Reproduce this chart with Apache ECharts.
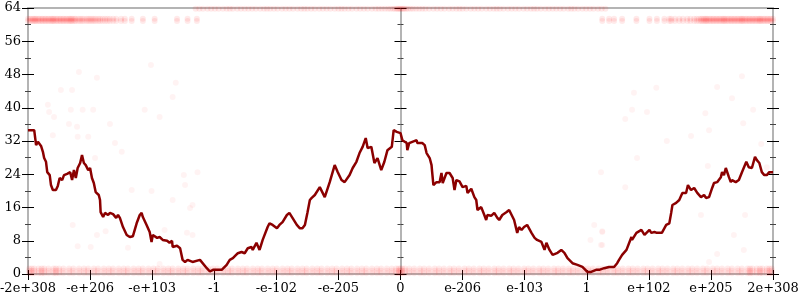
<!DOCTYPE html>
<html><head><meta charset="utf-8">
<script src="https://cdn.jsdelivr.net/npm/echarts@6/dist/echarts.min.js"></script>
<style>html,body{margin:0;padding:0;background:#fff}#c{width:800px;height:300px}</style>
</head><body><div id="c"></div>
<script>
// x axis: tick positions -6..6 map to these labels
const tickLabels = ['-2e+308','-e+206','-e+103','-1','-e-102','-e-205','0','e-206','e-103','1','e+102','e+205','2e+308'];

// main line (x in tick-index units, y values)
const lineX = [-6.00,-5.90,-5.87,-5.84,-5.81,-5.79,-5.76,-5.74,-5.71,-5.69,-5.65,-5.63,-5.60,-5.55,-5.52,-5.49,-5.45,-5.42,-5.37,-5.32,-5.29,-5.26,-5.23,-5.20,-5.16,-5.13,-5.10,-5.07,-5.03,-5.00,-4.97,-4.94,-4.91,-4.86,-4.84,-4.83,-4.79,-4.76,-4.71,-4.68,-4.63,-4.58,-4.55,-4.52,-4.47,-4.41,-4.36,-4.31,-4.28,-4.25,-4.20,-4.17,-4.15,-4.09,-4.04,-4.01,-3.99,-3.92,-3.88,-3.83,-3.76,-3.72,-3.68,-3.67,-3.60,-3.55,-3.51,-3.47,-3.43,-3.35,-3.23,-3.12,-3.07,-3.02,-2.94,-2.88,-2.86,-2.80,-2.75,-2.70,-2.62,-2.56,-2.51,-2.46,-2.40,-2.38,-2.32,-2.27,-2.22,-2.14,-2.11,-2.06,-1.99,-1.95,-1.90,-1.83,-1.79,-1.74,-1.67,-1.62,-1.58,-1.54,-1.50,-1.46,-1.43,-1.38,-1.30,-1.22,-1.14,-1.06,-1.01,-0.95,-0.90,-0.82,-0.77,-0.71,-0.66,-0.61,-0.56,-0.53,-0.47,-0.42,-0.37,-0.31,-0.26,-0.21,-0.14,-0.11,-0.06,-0.03,
0.00,0.03,0.10,0.11,0.14,0.19,0.26,0.27,0.35,0.39,0.42,0.47,0.50,0.51,0.53,0.58,0.63,0.66,0.68,0.74,0.79,0.84,0.87,0.90,0.95,1.00,1.06,1.08,1.14,1.16,1.19,1.22,1.24,1.30,1.35,1.38,1.40,1.46,1.51,1.56,1.59,1.64,1.71,1.75,1.79,1.83,1.88,1.91,1.95,1.99,2.04,2.11,2.16,2.20,2.27,2.32,2.35,2.40,2.45,2.53,2.59,2.64,2.69,2.77,2.85,2.93,3.01,3.07,3.15,3.20,3.28,3.36,3.44,3.49,3.52,3.57,3.64,3.65,3.72,3.73,3.80,3.88,3.93,4.01,4.04,4.09,4.13,4.21,4.28,4.33,4.36,4.38,4.44,4.49,4.54,4.60,4.63,4.68,4.73,4.78,4.84,4.89,4.92,4.97,5.02,5.05,5.10,5.16,5.18,5.21,5.24,5.29,5.32,5.34,5.40,5.45,5.50,5.57,5.61,5.66,5.71,5.74,5.78,5.82,5.86,5.90,5.94,6.00];
const lineY = [34.6,34.6,31.0,31.8,32.2,30.8,29.4,27.9,27.0,24.5,23.8,21.4,20.2,20.2,21.2,23.1,22.6,23.8,24.1,24.5,22.6,25.0,23.1,25.5,26.7,28.6,26.7,26.2,25.0,25.5,23.1,21.9,19.7,19.0,17.8,14.9,13.7,14.7,14.2,14.7,14.4,13.5,14.2,13.5,11.3,9.4,8.9,9.1,8.7,12.2,14.2,14.7,13.7,11.8,10.1,7.7,9.4,8.7,8.9,8.2,8.0,7.5,8.0,6.5,6.8,6.2,3.4,2.9,3.4,2.9,3.4,1.4,0.6,1.0,1.0,1.0,0.6,2.2,3.4,3.8,5.0,5.3,5.0,6.2,6.5,5.8,7.5,5.8,8.2,11.3,12.2,11.8,11.0,11.8,12.5,14.2,14.7,13.5,11.8,11.0,11.0,11.8,14.7,17.8,18.3,19.0,20.9,18.5,22.1,26.2,24.5,22.6,22.1,23.8,25.5,27.0,29.1,30.6,32.7,30.3,30.6,26.7,27.9,25.0,27.0,29.8,30.6,34.6,34.2,33.9,
33.9,32.2,31.5,29.8,31.5,31.8,32.2,31.5,31.5,31.0,29.1,27.9,26.2,24.5,21.4,22.1,22.1,24.3,21.9,24.3,24.3,23.1,20.2,22.6,22.3,20.9,21.2,19.5,20.5,20.2,18.5,17.8,15.4,16.1,14.2,13.0,14.2,14.0,14.7,13.5,13.0,14.2,14.9,15.4,14.2,13.0,9.9,11.3,10.6,11.3,11.8,9.9,8.7,8.2,7.7,5.8,7.5,5.8,4.6,5.1,5.8,5.1,3.8,2.6,2.2,1.7,0.5,0.5,1.0,1.0,1.4,1.7,1.7,2.6,3.4,4.6,5.8,6.2,8.9,8.2,9.9,10.6,9.4,10.6,9.9,10.1,9.9,9.9,11.8,12.2,14.7,16.6,17.1,17.8,19.5,19.5,21.4,20.2,20.7,19.5,18.5,19.0,18.3,18.5,20.7,21.9,22.1,23.3,24.5,23.8,25.5,23.3,22.1,22.6,22.1,22.6,24.5,27.0,25.7,25.5,28.2,27.4,26.7,24.5,23.8,23.8,24.5,24.5];

// faint scatter bands
const bottomBandX = [-5.98,-5.94,-5.9,-5.83,-5.78,-5.74,-5.67,-5.59,-5.55,-5.5,-5.43,-5.34,-5.27,-5.18,-5.1,-5.03,-4.94,-4.87,-4.78,-4.7,-4.63,-4.54,-4.46,-4.39,-4.3,-4.22,-4.15,-4.06,-3.98,-3.91,-3.82,-3.74,-3.67,-3.58,-3.5,-3.43,-3.34,-3.26,-3.19,-3.1,-3.02,-2.95,-2.86,-2.78,-2.71,-2.62,-2.54,-2.47,-2.38,-2.3,-2.23,-2.14,-2.06,-1.99,-1.9,-1.82,-1.75,-1.66,-1.58,-1.51,-1.42,-1.34,-1.27,-1.18,-1.1,-1.03,-0.94,-0.86,-0.79,-0.7,-0.62,-0.55,-0.46,-0.38,-0.31,-0.22,-0.14,-0.07,-0.03,0,0.03,0.07,0.14,0.22,0.31,0.38,0.46,0.55,0.62,0.7,0.79,0.86,0.94,1.03,1.1,1.18,1.27,1.34,1.42,1.51,1.58,1.66,1.75,1.82,1.9,1.99,2.06,2.14,2.23,2.3,2.38,2.47,2.54,2.62,2.71,2.78,2.86,2.95,3.02,3.1,3.19,3.26,3.34,3.43,3.5,3.58,3.67,3.74,3.82,3.91,3.98,4.06,4.15,4.22,4.3,4.39,4.46,4.54,4.63,4.7,4.78,4.87,4.94,5.03,5.1,5.18,5.27,5.34,5.43,5.5,5.59,5.63,5.67,5.74,5.79,5.83,5.9,5.94,5.98];
const bottomBandY = [1.3, 0.8, 0.2];
const band61X = [-6.00,-5.97,-5.95,-5.92,-5.90,-5.88,-5.86,-5.83,-5.81,-5.78,-5.76,-5.73,-5.71,-5.68,-5.66,-5.63,-5.61,-5.59,-5.57,-5.54,-5.52,-5.49,-5.47,-5.44,-5.42,-5.39,-5.37,-5.34,-5.32,-5.30,-5.28,-5.25,-5.23,-5.19,-5.16,-5.13,-5.10,-5.06,-5.03,-5.00,-4.97,-4.94,-4.91,-4.87,-4.84,-4.80,-4.76,-4.72,-4.68,-4.63,-4.58,-4.50,-4.44,-4.33,-4.15,-3.96,-3.60,-3.43,-3.28,
  3.25,3.36,3.44,3.57,3.80,4.01,4.13,4.25,4.33,4.36,4.42,4.49,4.55,4.62,4.67,4.73,4.77,4.81,4.84,4.86,4.89,4.91,4.93,4.95,4.98,5.00,5.03,5.05,5.08,5.10,5.13,5.15,5.18,5.20,5.22,5.24,5.27,5.29,5.32,5.34,5.37,5.39,5.42,5.44,5.47,5.49,5.51,5.53,5.56,5.58,5.61,5.63,5.66,5.68,5.71,5.73,5.76,5.78,5.80,5.82,5.85,5.87,5.90,5.92,5.95,5.97,6.00];
const band61Y = [61.4, 60.9];
const band64X = [-3.3,-3.24,-3.18,-3.11,-3.05,-2.99,-2.93,-2.86,-2.8,-2.75,-2.7,-2.63,-2.57,-2.51,-2.45,-2.39,-2.33,-2.26,-2.2,-2.15,-2.1,-2.04,-1.98,-1.91,-1.85,-1.79,-1.73,-1.66,-1.6,-1.55,-1.5,-1.44,-1.38,-1.31,-1.25,-1.19,-1.13,-1.06,-1.0,-0.95,-0.9,-0.84,-0.78,-0.71,-0.65,-0.59,-0.53,-0.46,-0.4,-0.35,-0.3,-0.25,-0.2,-0.16,-0.12,-0.09,-0.06,-0.04,-0.02,0,0.02,0.04,0.06,0.09,0.12,0.16,0.2,0.25,0.3,0.35,0.4,0.46,0.53,0.59,0.65,0.71,0.78,0.84,0.9,0.95,1.0,1.06,1.13,1.19,1.25,1.31,1.38,1.44,1.5,1.55,1.6,1.66,1.73,1.79,1.85,1.91,1.98,2.04,2.1,2.15,2.2,2.26,2.33,2.39,2.45,2.51,2.57,2.63,2.7,2.75,2.8,2.86,2.93,2.99,3.05,3.11,3.18,3.24,3.3];
const band64Y = 63.8;
const strayX = [-5.18,-4.89,-5.47,-5.29,-4.02,-3.62,-3.67,-5.68,-5.66,-5.58,-5.31,-5.12,-4.95,-5.34,-5.21,-4.68,-5.60,-5.20,-5.03,-4.60,-4.49,-4.92,-4.12,-3.88,-3.27,-3.49,-3.47,-4.33,-4.01,-3.67,
  3.62,3.73,3.97,4.29,4.68,4.97,4.91,5.68,5.52,5.81,3.23,3.81,3.62,4.95,5.90,3.25,3.25,4.84,5.55,5.10,5.37,5.53,4.97,
  -5.28,-4.89,-4.75,-5.20,-4.99,-4.39,-3.88,-3.80,-3.35,3.12,3.25,3.06,3.23,-3.39,-3.44,-3.35,3.76,4.12,5.10,5.34,5.50];
const strayY = [48.6,47.2,44.3,44.3,50.3,46.0,42.6,40.7,39.0,37.8,39.5,39.5,39.5,36.1,35.4,36.1,33.4,33.0,33.0,31.5,29.4,27.9,39.5,37.8,24.5,23.8,21.4,20.2,20.0,17.8,
  37.3,39.5,39.0,32.0,33.2,34.6,38.7,39.5,36.3,31.3,24.5,27.9,20.9,26.0,25.7,10.1,7.0,14.2,14.2,4.8,9.4,5.8,2.9,
  11.8,9.4,10.3,6.7,6.5,6.3,2.4,10.6,16.6,11.8,10.3,8.2,7.0,15.9,9.9,9.4,43.6,44.8,45.0,42.3,47.6];

const FONT = 'DejaVu Serif';
const AXIS_GRAY = '#b4b4b4';

const bandData = [];
bottomBandY.forEach(y => bottomBandX.forEach(x => bandData.push([x, y])));
band61Y.forEach(y => band61X.forEach(x => bandData.push([x, y])));
band64X.forEach(x => bandData.push([x, band64Y]));
const strayData = strayX.map((x, i) => [x, strayY[i]]);
const lineData = lineX.map((x, i) => [x, lineY[i]]);

function yAx(pos, inside, showLabel, showLine, onZero) {
  const a = {
    type: 'value', min: 0, max: 64, interval: 8, position: pos,
    axisLine: { show: showLine, onZero: onZero, lineStyle: { color: AXIS_GRAY, width: 2 } },
    axisTick: { show: true, inside: inside, length: 6, lineStyle: { color: '#000', width: 1 } },
    minorTick: { show: true, splitNumber: 2, length: 3, lineStyle: { color: '#444', width: 1 } },
    axisLabel: { show: showLabel, fontFamily: FONT, fontSize: 13, color: '#000', margin: 7 },
    splitLine: { show: false }, minorSplitLine: { show: false }
  };
  if (onZero) a.axisLine.onZeroAxisIndex = 0;
  return a;
}
function xAx(pos, inside, len, showLabel, showLine, showTick) {
  return {
    type: 'value', min: -6, max: 6, interval: 1, position: pos,
    axisLine: { show: showLine, onZero: false, lineStyle: { color: AXIS_GRAY, width: 2 } },
    axisTick: { show: showTick, inside: inside, length: len, lineStyle: { color: '#000', width: 1 } },
    axisLabel: { show: showLabel, fontFamily: FONT, fontSize: 13, color: '#000', margin: 8,
      formatter: v => tickLabels[Math.round(v) + 6] },
    splitLine: { show: false }
  };
}

const chart = echarts.init(document.getElementById('c'), null, { renderer: 'canvas' });
chart.setOption({
  animation: false,
  backgroundColor: '#fff',
  grid: { left: 28, right: 27, top: 8, bottom: 26, containLabel: false, outerBoundsMode: 'none' },
  xAxis: [
    xAx('bottom', false, 6, true, true, true),
    xAx('bottom', true, 4, false, false, true),
    xAx('top', false, 0, false, true, false)
  ],
  yAxis: [
    yAx('left', false, true, true, false),
    yAx('left', true, false, false, false),
    yAx('right', false, false, true, false),
    yAx('right', true, false, false, false),
    yAx('left', false, false, true, true),
    yAx('left', true, false, false, true)
  ],
  series: [
    { type: 'scatter', xAxisIndex: 0, yAxisIndex: 0, data: strayData, symbol: 'circle', symbolSize: 6,
      itemStyle: { color: 'rgba(255,0,0,0.06)' }, silent: true, clip: false },
    { type: 'scatter', xAxisIndex: 0, yAxisIndex: 0, data: bandData, symbol: 'circle', symbolSize: 6,
      itemStyle: { color: 'rgba(255,0,0,0.1)' }, silent: true, clip: false },
    { type: 'line', xAxisIndex: 0, yAxisIndex: 0, data: lineData, showSymbol: false, symbol: 'none',
      lineStyle: { color: '#8b0000', width: 2.5 }, z: 5 }
  ]
});
</script></body></html>
